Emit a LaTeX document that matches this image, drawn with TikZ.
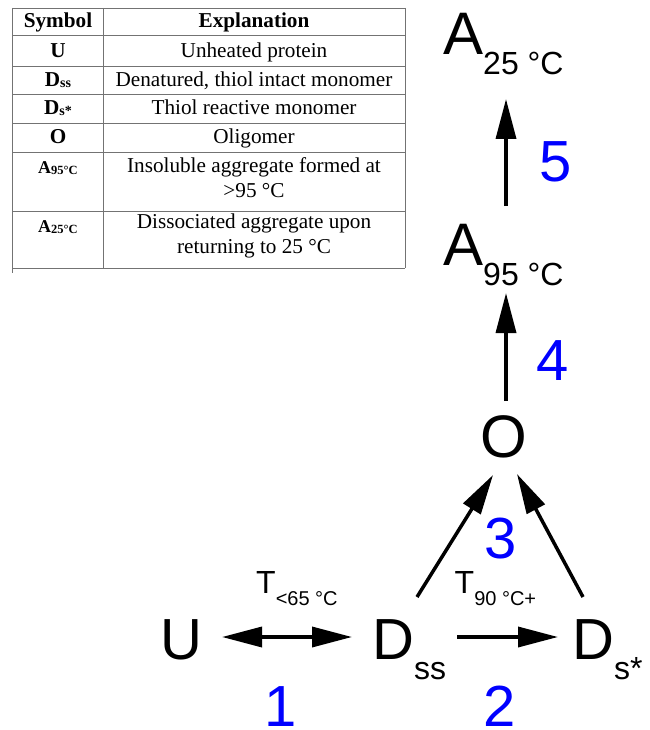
\documentclass[tikz,border=0pt]{standalone}
\usepackage{fontspec}
\setmainfont{Liberation Serif}
\newfontfamily\arialf{Liberation Sans}
\usetikzlibrary{arrows.meta}
\newcommand{\bigsubtxt}[3]{{\fontsize{#1}{#1}\selectfont #2}{\fontsize{32}{32}\selectfont\raisebox{-20pt}{#3}}}
\newcommand{\tsubtxt}[2]{{\fontsize{32}{32}\selectfont #1}{\fontsize{20}{20}\selectfont\raisebox{-12.5pt}{#2}}}
\begin{document}
\begin{tikzpicture}[x=1pt,y=-1pt,
  tline/.style={draw=black!55, line width=0.9pt},
  tabtxt/.style={font=\fontsize{21.2}{25}\selectfont, inner sep=0pt, anchor=base},
  symtxt/.style={font=\fontsize{21.2}{25}\selectfont\bfseries, inner sep=0pt, anchor=base},
  species/.style={font=\arialf, inner sep=0pt, anchor=base west},
  stepnum/.style={font=\arialf\fontsize{58}{58}\selectfont, text=blue, inner sep=0pt, anchor=base west},
  arr/.style={line width=3.5pt, -{Triangle[length=40pt,width=20pt]}},
  darr/.style={line width=3.5pt, {Triangle[length=40pt,width=20pt]}-{Triangle[length=40pt,width=20pt]}}
]
\useasboundingbox[fill=white] (0,0) rectangle (649,730);

% ---------- table ----------
\draw[tline] (12.7,8) -- (405,8);
\foreach \yy in {35,66,94,123,152,211,268} \draw[tline] (12.7,\yy) -- (405,\yy);
\draw[tline] (12.7,8) -- (12.7,273);
\draw[tline] (103.3,8) -- (103.3,268);
\draw[tline] (405,8) -- (405,268);

\node[symtxt] (hs) at (58,27.5) {Symbol};
\node[symtxt] (he) at (254,27.5) {Explanation};

\node[symtxt] (s1) at (58,57.5) {U};
\node[tabtxt] (e1) at (254,57.5) {Unheated protein};

\node[symtxt] (s2) at (58,86.5) {D{\fontsize{14}{14}\selectfont\raisebox{-1.5pt}{ss}}};
\node[tabtxt] (e2) at (254,86.5) {Denatured, thiol intact monomer};

\node[symtxt] (s3) at (58,114.5) {D{\fontsize{14}{14}\selectfont\raisebox{-1.5pt}{s*}}};
\node[tabtxt] (e3) at (254,114.5) {Thiol reactive monomer};

\node[symtxt] (s4) at (58,143.5) {O};
\node[tabtxt] (e4) at (254,143.5) {Oligomer};

\node[symtxt] (s5) at (58,173.3) {{\fontsize{18}{18}\selectfont A}{\fontsize{12.5}{12.5}\selectfont\raisebox{-1pt}{95°C}}};
\node[tabtxt] (e5) at (254,172) {\begin{tabular}[t]{@{}c@{}}Insoluble aggregate formed at\\>95 °C\end{tabular}};

\node[symtxt] (s6) at (58,232) {{\fontsize{18}{18}\selectfont A}{\fontsize{12.5}{12.5}\selectfont\raisebox{-1pt}{25°C}}};
\node[tabtxt] (e6) at (254,228.5) {\begin{tabular}[t]{@{}c@{}}Dissociated aggregate upon\\returning to 25 °C\end{tabular}};

% ---------- scheme ----------
\node[species] (A25) at (443,55) {\bigsubtxt{60}{A}{25 °C}};
\node[species] (A95) at (443,265) {\bigsubtxt{60}{A}{95 °C}};
\node[species] (O) at (480,457) {{\fontsize{60}{60}\selectfont O}};
\node[species] (U) at (160,659) {{\fontsize{58}{58}\selectfont U}};
\node[species] (Dss) at (372,659) {\bigsubtxt{58}{D}{ss}};
\node[species] (Dst) at (572,659) {\bigsubtxt{58}{D}{s*}};

\node[species] (T1) at (256,593) {\tsubtxt{T}{<65 °C}};
\node[species] (T2) at (454.5,593) {\tsubtxt{T}{90 °C+}};

\node[stepnum] (n1) at (264,726) {1};
\node[stepnum] (n2) at (483,726) {2};
\node[stepnum] (n3) at (484.5,558) {3};
\node[stepnum] (n4) at (536.5,380) {4};
\node[stepnum] (n5) at (539.5,181.7) {5};

% connector end points
\coordinate (c5s) at (506,206);
\coordinate (c5e) at (506,99);
\coordinate (c4s) at (506,401);
\coordinate (c4e) at (506,293);
\coordinate (c3ls) at (417,597);
\coordinate (c3le) at (493,475);
\coordinate (c3rs) at (583,597);
\coordinate (c3re) at (517,474);
\coordinate (c1s) at (222,637);
\coordinate (c1e) at (352,637);
\coordinate (c2s) at (457,637);
\coordinate (c2e) at (558,637);

\draw[arr] (c5s) -- (c5e);
\draw[arr] (c4s) -- (c4e);
\draw[arr] (c3ls) -- (c3le);
\draw[arr] (c3rs) -- (c3re);
\draw[darr] (c1s) -- (c1e);
\draw[arr] (c2s) -- (c2e);
\end{tikzpicture}
\end{document}
